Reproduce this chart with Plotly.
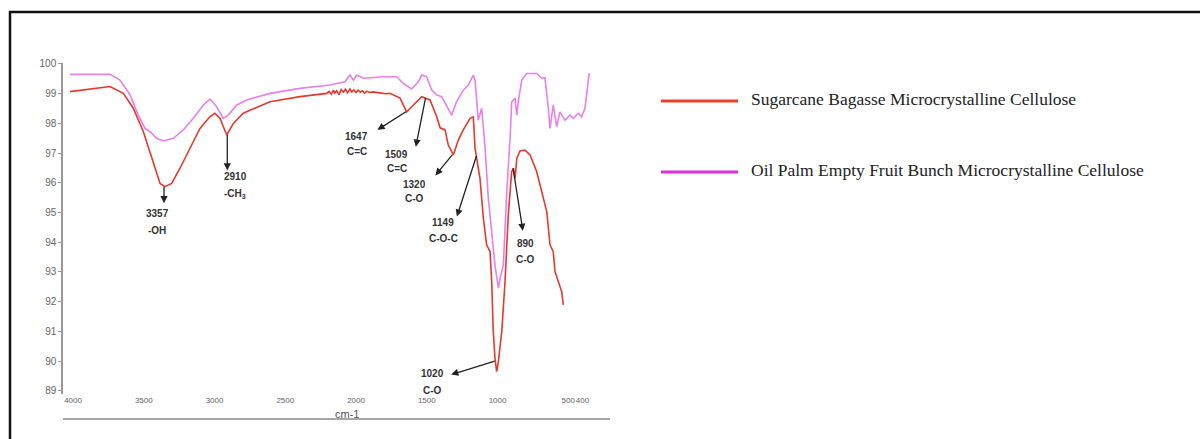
import plotly.graph_objects as go

# FTIR spectra (wavenumber in cm-1, transmittance in %)
sugarcane_wn = [4021, 3857, 3739, 3645, 3574, 3503, 3444, 3385, 3350, 3303, 3244, 3173, 3103,
                3032, 2997, 2961, 2914, 2867, 2797, 2691, 2608, 2396, 2207, 2190, 2175, 2160,
                2150, 2137, 2120, 2105, 2090, 2075, 2060, 2043, 2030, 2015, 2000, 1985, 1970,
                1955, 1940, 1925, 1900, 1880, 1850, 1820, 1790, 1760, 1689, 1642, 1571, 1536,
                1477, 1430, 1406, 1371, 1348, 1312, 1277, 1242, 1194, 1171, 1159, 1149, 1136,
                1124, 1100, 1077, 1053, 1041, 1030, 1018, 1006, 994, 970, 947, 924, 900, 888,
                876, 864, 841, 806, 770, 723, 688, 652, 629, 606, 594, 570, 546, 535]
sugarcane_t = [99.07, 99.16, 99.24, 99.01, 98.51, 97.72, 96.82, 95.98, 95.87, 95.98, 96.49, 97.16, 97.83,
               98.23, 98.34, 98.17, 97.61, 98.00, 98.34, 98.56, 98.73, 98.90, 99.01, 99.08, 98.98, 99.12,
               99.02, 99.10, 98.97, 99.14, 99.05, 99.15, 99.03, 99.16, 99.06, 99.13, 99.04, 99.12, 99.05,
               99.10, 99.02, 99.08, 99.04, 99.06, 99.03, 99.02, 99.00, 99.01, 98.85, 98.39, 98.73, 98.90,
               98.79, 98.23, 97.85, 97.78, 97.27, 96.94, 97.44, 97.78, 98.17, 98.22, 97.17, 96.90, 96.60,
               96.15, 94.80, 93.91, 93.68, 92.67, 90.99, 90.09, 89.64, 89.98, 90.99, 92.67, 94.92, 96.37, 96.49,
               96.15, 96.82, 97.07, 97.10, 96.94, 96.37, 95.70, 95.03, 93.91, 93.68, 93.01, 92.67, 92.33, 91.89]

oil_palm_wn = [4021, 3739, 3668, 3597, 3539, 3491, 3456, 3409, 3362, 3291, 3221, 3150, 3079,
               3032, 2985, 2938, 2903, 2843, 2773, 2691, 2608, 2396, 2184, 2078, 2043, 2019,
               1995, 1949, 1807, 1713, 1666, 1607, 1560, 1536, 1501, 1465, 1430, 1395, 1359,
               1324, 1289, 1242, 1206, 1171, 1159, 1136, 1112, 1089, 1065, 1041, 1018, 994,
               982, 959, 934, 911, 900, 876, 864, 853, 829, 794, 723, 688, 665, 641, 629, 606,
               582, 559, 523, 488, 464, 429, 405, 382, 366, 352]
oil_palm_t = [99.65, 99.65, 99.46, 98.96, 98.28, 97.83, 97.72, 97.50, 97.41, 97.50, 97.78, 98.17, 98.62,
              98.82, 98.56, 98.17, 98.28, 98.62, 98.79, 98.90, 99.01, 99.18, 99.29, 99.40, 99.63, 99.46,
              99.63, 99.52, 99.57, 99.57, 99.35, 99.16, 99.40, 99.63, 99.57, 99.12, 98.96, 98.90, 98.56,
              98.28, 98.73, 99.12, 99.29, 99.63, 99.46, 98.11, 98.51, 97.25, 95.48, 94.35, 93.23, 92.45,
              92.78, 93.23, 95.76, 97.50, 98.72, 98.85, 98.28, 98.73, 99.46, 99.68, 99.68, 99.52, 99.54,
              98.51, 97.83, 98.62, 97.89, 98.39, 98.11, 98.28, 98.17, 98.34, 98.22, 98.51, 99.18, 99.69]

# Peak assignments: wavenumber, functional group, transmittance at the marked point
peak_wn = [3357, 2910, 1647, 1509, 1320, 1149, 1020, 890]
peak_group = ["-OH", "-CH<sub>3</sub>", "C=C", "C=C", "C-O", "C-O-C", "C-O", "C-O"]
peak_t = [95.87, 97.61, 98.39, 98.85, 96.94, 96.90, 90.00, 96.49]

x_ticks = [4000, 3500, 3000, 2500, 2000, 1500, 1000, 500, 400]
y_ticks = [89, 90, 91, 92, 93, 94, 95, 96, 97, 98, 99, 100]

series_names = ["Sugarcane Bagasse Microcrystalline Cellulose",
                "Oil Palm Empty Fruit Bunch Microcrystalline Cellulose"]

W, H = 1200, 439


def px(x):
    return x / W


def py(y):
    return 1 - y / H


fig = go.Figure()
fig.add_trace(go.Scatter(x=oil_palm_wn, y=oil_palm_t, mode="lines",
                         line=dict(color="#e97fe9", width=1.6), showlegend=False))
fig.add_trace(go.Scatter(x=sugarcane_wn, y=sugarcane_t, mode="lines",
                         line=dict(color="#e5392f", width=1.6), showlegend=False))

# arrow head offset (px) and label offsets (px, number line / group line) per peak
arrow_layout = [
    dict(ax=0, ay=18, tx=-7, ty1=-27, ty2=-44),
    dict(ax=0, ay=37, tx=8, ty1=-42, ty2=-59),
    dict(ax=-30, ay=19, tx=-49, ty1=-25, ty2=-40),
    dict(ax=-10, ay=50, tx=-29, ty1=-56, ty2=-70),
    dict(ax=-18, ay=22, tx=-38, ty1=-30, ty2=-44),
    dict(ax=-20, ay=62, tx=-33, ty1=-66, ty2=-82),
    dict(ax=-45, ay=14, tx=-62, ty1=-12, ty2=-29),
    dict(ax=10, ay=64, tx=12, ty1=-75, ty2=-91),
]

label_font = dict(family="Arial, Liberation Sans, sans-serif", size=10, color="#333333")
annotations = []
for wn, grp, t, lay in zip(peak_wn, peak_group, peak_t, arrow_layout):
    annotations.append(dict(x=wn, y=t, xref="x", yref="y", text="", showarrow=True,
                            ax=lay["ax"], ay=lay["ay"], arrowside="start", startarrowhead=2,
                            startarrowsize=1.1, arrowwidth=1.3, arrowcolor="#222222",
                            standoff=0, startstandoff=0))
    annotations.append(dict(x=wn, y=t, xref="x", yref="y", text="<b>%d</b>" % wn,
                            showarrow=False, xshift=lay["tx"], yshift=lay["ty1"], font=label_font))
    annotations.append(dict(x=wn, y=t, xref="x", yref="y", text="<b>%s</b>" % grp,
                            showarrow=False, xshift=lay["tx"], yshift=lay["ty2"], font=label_font))

# axis title sitting on the lower rule
annotations.append(dict(x=px(333), y=py(414), xref="paper", yref="paper", text="cm-1",
                        showarrow=False, yanchor="middle",
                        font=dict(family="Arial, sans-serif", size=11, color="#555555")))

# legend entries
legend_colors = ["#e8432b", "#df2edf"]
legend_rows = [101, 172]
shapes = []
for name, col, row in zip(series_names, legend_colors, legend_rows):
    shapes.append(dict(type="line", xref="paper", yref="paper", x0=px(661), x1=px(738),
                       y0=py(row), y1=py(row), line=dict(color=col, width=3)))
    annotations.append(dict(x=px(749), y=py(row - 2), xref="paper", yref="paper", text=name,
                            showarrow=False, xanchor="left", yanchor="middle",
                            font=dict(family="Liberation Serif, Times New Roman, serif",
                                      size=17.5, color="#222222")))

# lower rule under the wavenumber labels
shapes.append(dict(type="line", xref="paper", yref="paper", x0=px(63), x1=px(610),
                   y0=py(419), y1=py(419), line=dict(color="#8a8a8a", width=1.5)))
# outer frame
shapes.append(dict(type="rect", xref="paper", yref="paper", x0=px(10), x1=px(1215),
                   y0=py(460), y1=py(12), line=dict(color="#111111", width=2.5)))

fig.update_layout(
    width=W, height=H,
    margin=dict(l=0, r=0, t=0, b=0),
    paper_bgcolor="white", plot_bgcolor="white",
    showlegend=False,
    annotations=annotations,
    shapes=shapes,
    xaxis=dict(domain=[px(63), px(610)], range=[4071, 205], automargin=False,
               tickvals=x_ticks, ticktext=[str(v) for v in x_ticks], tickangle=0,
               showline=False, showgrid=False, zeroline=False, ticks="",
               tickfont=dict(family="Arial, sans-serif", size=8, color="#666666")),
    yaxis=dict(domain=[py(393.7), py(62.5)], range=[88.9, 100.05], automargin=False,
               tickvals=y_ticks, showline=True, linecolor="#9a9a9a", linewidth=1.5,
               showgrid=False, zeroline=False, ticks="outside", ticklen=3, tickcolor="#9a9a9a",
               tickfont=dict(family="Arial, sans-serif", size=10, color="#666666")),
)

fig.write_html("out.html")
